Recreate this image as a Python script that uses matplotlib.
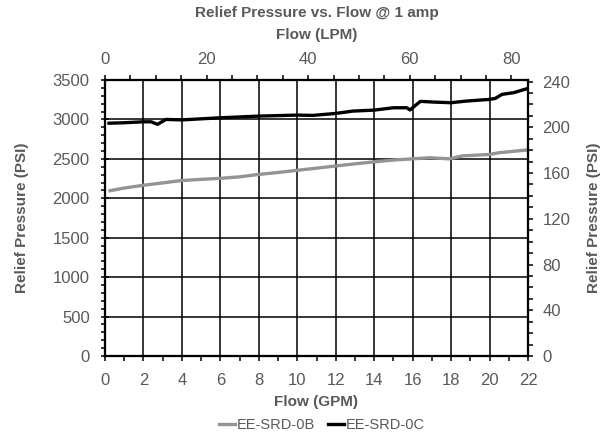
import matplotlib
matplotlib.use("Agg")
import matplotlib.pyplot as plt
from matplotlib.ticker import MultipleLocator

plt.rcParams['font.family'] = ['Liberation Sans', 'DejaVu Sans']

gpm_b = [0.26, 1, 2, 3, 3.9, 5, 6, 7, 8, 9, 10, 11, 12, 13, 14, 15, 16, 16.9, 17.9, 18.6, 20, 20.5, 21, 21.93]
psi_b = [2096, 2130, 2165, 2195, 2223, 2240, 2253, 2272, 2303, 2327, 2355, 2382, 2410, 2437, 2462, 2485,
         2500, 2514, 2500, 2538, 2556, 2578, 2590, 2612]

gpm_c = [0.21, 1, 2, 2.4, 2.73, 3.17, 4, 6, 8, 10, 10.8, 12, 12.9, 14, 15, 15.7, 15.86, 16.4, 17.1, 18,
         18.8, 20, 20.3, 20.65, 21.25, 21.95]
psi_c = [2952, 2958, 2970, 2970, 2938, 3000, 2994, 3021, 3042, 3055, 3051, 3076, 3106, 3118, 3148, 3148,
         3120, 3229, 3220, 3212, 3233, 3254, 3267, 3318, 3339, 3390]

GPM_TO_LPM = 3.78541
PSI_TO_BAR = 1 / 14.5038
grey = '#595959'
FS = 12
FB = 11

fig = plt.figure(figsize=(6.05, 4.4), dpi=100)
ax = fig.add_axes([105 / 605, 84 / 440, 423 / 605, 276 / 440])

ax.plot(gpm_b, psi_b, color='#949494', lw=2.4, label='EE-SRD-0B')
ax.plot(gpm_c, psi_c, color='black', lw=2.4, label='EE-SRD-0C')

ax.set_xlim(0, 22)
ax.set_ylim(0, 3500)
ax.xaxis.set_major_locator(MultipleLocator(2))
ax.xaxis.set_minor_locator(MultipleLocator(1))
ax.yaxis.set_major_locator(MultipleLocator(500))
ax.yaxis.set_minor_locator(MultipleLocator(100))
ax.grid(True, which='major', color='black', lw=1.1)
ax.set_axisbelow(True)
for s in ax.spines.values():
    s.set_linewidth(1.5)
    s.set_color('black')
ax.tick_params(axis='both', which='both', colors='black', labelcolor=grey, labelsize=FS, width=1.1)
ax.tick_params(axis='y', which='major', direction='inout', length=6, pad=8)
ax.tick_params(axis='y', which='minor', direction='out', length=3)
ax.tick_params(axis='x', which='both', direction='out', length=3.5, pad=8.5)
ax.set_xlabel('Flow (GPM)', fontsize=FB, fontweight='bold', color=grey, labelpad=5)
ax.set_ylabel('Relief Pressure (PSI)', fontsize=FB, fontweight='bold', color=grey, labelpad=17)

axr = ax.twinx()
axr.set_ylim(0, 3500 * PSI_TO_BAR)
axr.yaxis.set_major_locator(MultipleLocator(40))
axr.yaxis.set_minor_locator(MultipleLocator(10))
axr.tick_params(axis='y', which='both', direction='out', length=3.5, width=1.1, labelsize=FS,
                labelcolor=grey, pad=7)
axr.set_ylabel('Relief Pressure (PSI)', fontsize=FB, fontweight='bold', color=grey, labelpad=12)
for s in axr.spines.values():
    s.set_linewidth(1.5)

axt = ax.twiny()
axt.set_xlim(0, 22 * GPM_TO_LPM)
axt.xaxis.set_major_locator(MultipleLocator(20))
axt.xaxis.set_minor_locator(MultipleLocator(5))
axt.tick_params(axis='x', which='both', direction='out', length=3.5, width=1.1, labelsize=FS,
                labelcolor=grey, pad=6)
axt.set_xlabel('Flow (LPM)', fontsize=FB, fontweight='bold', color=grey, labelpad=9)
for s in axt.spines.values():
    s.set_linewidth(1.5)

fig.text(316.5 / 605, 1 - 13 / 440, 'Relief Pressure vs. Flow @ 1 amp', ha='center', va='center',
         fontsize=FB, fontweight='bold', color=grey)

h, l = ax.get_legend_handles_labels()
fig.legend(h, l, loc='center', bbox_to_anchor=(322 / 605, 1 - 425 / 440), ncol=2, frameon=False,
           fontsize=10.5, handlelength=1.1, handletextpad=0.1, columnspacing=0.9, labelcolor=grey,
           borderpad=0, borderaxespad=0)

fig.savefig('out.png', dpi=100)
